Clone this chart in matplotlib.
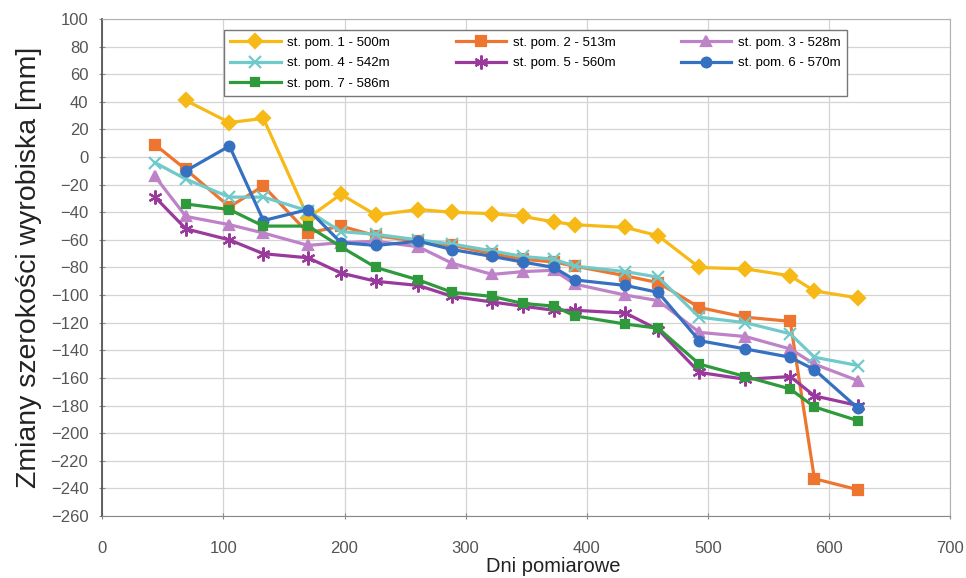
import matplotlib
matplotlib.use("Agg")
from matplotlib import pyplot as plt

plt.rcParams['font.family'] = ['Liberation Sans', 'DejaVu Sans']

# dni pomiarowe
dni = [43.5, 69, 105, 133, 170, 197, 226, 261, 289, 322,
       347, 373, 390, 432, 459, 493, 531, 568, 588, 624]

# zmiany szerokości [mm] dla stanowisk pomiarowych
st1 = [41, 25, 28, -44, -27, -42, -38, -40, -41, -43,
       -47, -49, -51, -57, -80, -81, -86, -97, -102]
st2 = [9, -9, -36, -21, -55, -50, -57, -61, -64, -70,
       -74, -76, -79, -86, -91, -109, -116, -119, -233, -241]
st3 = [-14, -43, -49, -55, -64, -62, -61, -65, -77, -85,
       -83, -82, -92, -100, -104, -127, -130, -139, -150, -162]
st4 = [-4, -16, -29, -29, -39, -54, -56, -60, -63, -68,
       -72, -74, -79, -83, -87, -116, -120, -128, -145, -151]
st5 = [-29, -52, -60, -70, -73, -84, -90, -93, -101, -105,
       -108, -111, -111, -113, -125, -156, -161, -159, -173, -180]
st6 = [-10, 8, -46, -38, -62, -64, -61, -67, -72, -76,
       -80, -89, -93, -98, -133, -139, -145, -154, -182]
st7 = [-34, -38, -50, -50, -65, -80, -89, -98, -101, -106,
       -108, -115, -121, -124, -150, -159, -168, -181, -191]

etykiety = ['st. pom. 1 - 500m', 'st. pom. 2 - 513m', 'st. pom. 3 - 528m',
            'st. pom. 4 - 542m', 'st. pom. 5 - 560m', 'st. pom. 6 - 570m',
            'st. pom. 7 - 586m']

serie = [
    (dni[1:], st1, '#F6B915', 'D', 7),
    (dni, st2, '#EE7530', 's', 7),
    (dni, st3, '#BE82C8', '^', 7),
    (dni, st4, '#70CACA', 'x', 9),
    (dni, st5, '#9A3A9C', (6, 2, 0), 10),
    (dni[1:], st6, '#3670C0', 'o', 7),
    (dni[1:], st7, '#2E9A3C', 's', 6),
]

fig = plt.figure(figsize=(9.66, 5.78), dpi=100)
ax = fig.add_axes([0.1059, 0.1073, 0.8776, 0.8598])

linie = []
for (x, y, kolor, znak, rozm), nazwa in zip(serie, etykiety):
    l, = ax.plot(x, y, color=kolor, lw=2.3, marker=znak, markersize=rozm,
                 markeredgewidth=1.6, label=nazwa)
    linie.append(l)

ax.set_xlim(0, 700)
ax.set_ylim(-260, 100)
ax.set_xticks(range(0, 701, 100))
ax.set_yticks(range(-260, 101, 20))
ax.grid(True, color='#d4d4d4', lw=0.9)
ax.set_axisbelow(True)

ax.tick_params(axis='both', labelsize=12, labelcolor='#555555',
               direction='inout', length=4, color='#888888', pad=8)
ax.tick_params(axis='x', pad=16)
for s in ['top', 'right']:
    ax.spines[s].set_color('#b0b0b0')
ax.spines['bottom'].set_color('#888888')
ax.spines['left'].set_color('#555555')
ax.spines['left'].set_linewidth(1.3)

ax.set_xlabel('Dni pomiarowe', fontsize=14.5, color='#222222')
ax.xaxis.set_label_coords(0.532, -0.083)
ax.set_ylabel('Zmiany szerokości wyrobiska [mm]', fontsize=20.5,
              color='#222222', labelpad=6)

# legenda wierszami: 1 2 3 / 4 5 6 / 7
kolejnosc = [0, 3, 6, 1, 4, 2, 5]
leg = ax.legend([linie[i] for i in kolejnosc], [etykiety[i] for i in kolejnosc],
                loc='upper center', bbox_to_anchor=(0.511, 0.978), ncol=3,
                fontsize=9.5, handlelength=3.8, handletextpad=0.5,
                columnspacing=5.0, labelspacing=0.62, fancybox=False,
                framealpha=1, edgecolor='#777777', borderpad=0.5,
                borderaxespad=0)
leg.get_frame().set_linewidth(1.0)

fig.savefig('out.png', dpi=100)
